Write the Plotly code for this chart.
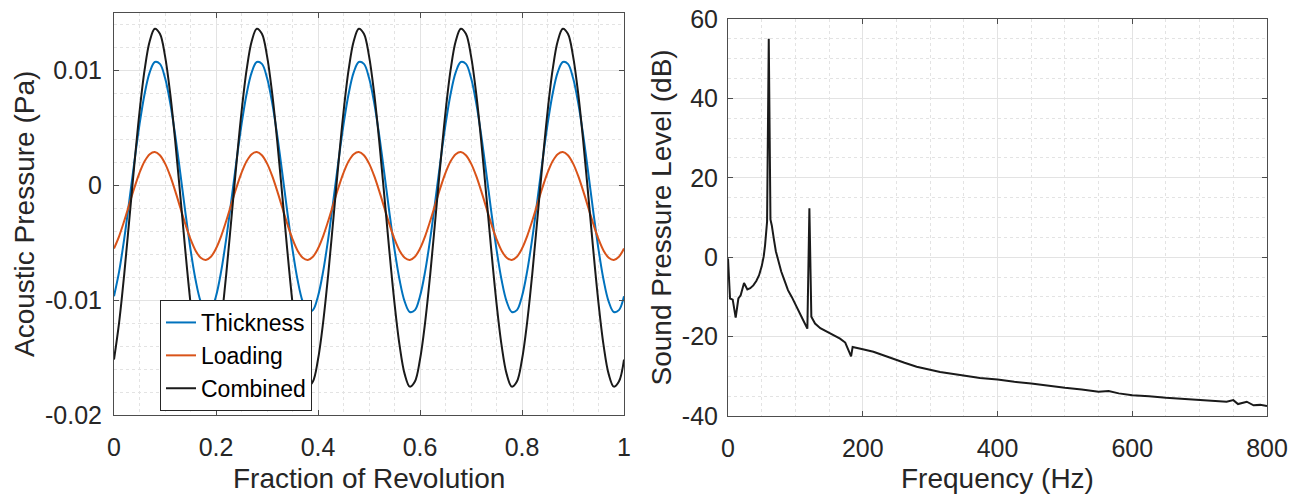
import plotly.graph_objects as go

# ---------------- Left panel data ----------------
frac = [round(i * 0.01, 2) for i in range(101)]

thickness = [
    -0.00966, -0.00752, -0.00466, -0.00135, 0.00207, 0.00528, 0.00795, 0.00983, 0.01073, 0.01057,
    0.00936, 0.00722, 0.00436, 0.00105, -0.00237, -0.00558, -0.00825, -0.01013, -0.01103, -0.01087,
    -0.00966, -0.00752, -0.00466, -0.00135, 0.00207, 0.00528, 0.00795, 0.00983, 0.01073, 0.01057,
    0.00936, 0.00722, 0.00436, 0.00105, -0.00237, -0.00558, -0.00825, -0.01013, -0.01103, -0.01087,
    -0.00966, -0.00752, -0.00466, -0.00135, 0.00207, 0.00528, 0.00795, 0.00983, 0.01073, 0.01057,
    0.00936, 0.00722, 0.00436, 0.00105, -0.00237, -0.00558, -0.00825, -0.01013, -0.01103, -0.01087,
    -0.00966, -0.00752, -0.00466, -0.00135, 0.00207, 0.00528, 0.00795, 0.00983, 0.01073, 0.01057,
    0.00936, 0.00722, 0.00436, 0.00105, -0.00237, -0.00558, -0.00825, -0.01013, -0.01103, -0.01087,
    -0.00966, -0.00752, -0.00466, -0.00135, 0.00207, 0.00528, 0.00795, 0.00983, 0.01073, 0.01057,
    0.00936, 0.00722, 0.00436, 0.00105, -0.00237, -0.00558, -0.00825, -0.01013, -0.01103, -0.01087,
    -0.00966,
]

loading = [
    -0.00551, -0.00444, -0.00311, -0.00165, -0.00021, 0.00108, 0.00209, 0.00271, 0.00290, 0.00262,
    0.00191, 0.00084, -0.00049, -0.00195, -0.00339, -0.00468, -0.00569, -0.00631, -0.00650, -0.00622,
    -0.00551, -0.00444, -0.00311, -0.00165, -0.00021, 0.00108, 0.00209, 0.00271, 0.00290, 0.00262,
    0.00191, 0.00084, -0.00049, -0.00195, -0.00339, -0.00468, -0.00569, -0.00631, -0.00650, -0.00622,
    -0.00551, -0.00444, -0.00311, -0.00165, -0.00021, 0.00108, 0.00209, 0.00271, 0.00290, 0.00262,
    0.00191, 0.00084, -0.00049, -0.00195, -0.00339, -0.00468, -0.00569, -0.00631, -0.00650, -0.00622,
    -0.00551, -0.00444, -0.00311, -0.00165, -0.00021, 0.00108, 0.00209, 0.00271, 0.00290, 0.00262,
    0.00191, 0.00084, -0.00049, -0.00195, -0.00339, -0.00468, -0.00569, -0.00631, -0.00650, -0.00622,
    -0.00551, -0.00444, -0.00311, -0.00165, -0.00021, 0.00108, 0.00209, 0.00271, 0.00290, 0.00262,
    0.00191, 0.00084, -0.00049, -0.00195, -0.00339, -0.00468, -0.00569, -0.00631, -0.00650, -0.00622,
    -0.00551,
]

combined = [
    -0.01517, -0.01196, -0.00777, -0.00300, 0.00186, 0.00636, 0.01004, 0.01254, 0.01363, 0.01319,
    0.01127, 0.00806, 0.00387, -0.00090, -0.00576, -0.01026, -0.01394, -0.01644, -0.01753, -0.01709,
    -0.01517, -0.01196, -0.00777, -0.00300, 0.00186, 0.00636, 0.01004, 0.01254, 0.01363, 0.01319,
    0.01127, 0.00806, 0.00387, -0.00090, -0.00576, -0.01026, -0.01394, -0.01644, -0.01753, -0.01709,
    -0.01517, -0.01196, -0.00777, -0.00300, 0.00186, 0.00636, 0.01004, 0.01254, 0.01363, 0.01319,
    0.01127, 0.00806, 0.00387, -0.00090, -0.00576, -0.01026, -0.01394, -0.01644, -0.01753, -0.01709,
    -0.01517, -0.01196, -0.00777, -0.00300, 0.00186, 0.00636, 0.01004, 0.01254, 0.01363, 0.01319,
    0.01127, 0.00806, 0.00387, -0.00090, -0.00576, -0.01026, -0.01394, -0.01644, -0.01753, -0.01709,
    -0.01517, -0.01196, -0.00777, -0.00300, 0.00186, 0.00636, 0.01004, 0.01254, 0.01363, 0.01319,
    0.01127, 0.00806, 0.00387, -0.00090, -0.00576, -0.01026, -0.01394, -0.01644, -0.01753, -0.01709,
    -0.01517,
]

left_xticks = [0, 0.2, 0.4, 0.6, 0.8, 1]
left_xticklabels = ["0", "0.2", "0.4", "0.6", "0.8", "1"]
left_yticks = [-0.02, -0.01, 0, 0.01]
left_yticklabels = ["-0.02", "-0.01", "0", "0.01"]

# ---------------- Right panel data ----------------
freq = [0, 3, 7, 11.4, 15.4, 18.8, 23.8, 28.7, 33, 37.6, 42, 46, 50, 53, 55, 56.5, 58, 60.5, 63,
        65, 66.5, 68.3, 71, 74.7, 79, 84.6, 89, 94.6, 100, 106.9, 112, 117.8, 120.8, 123.7, 129.2,
        137, 146.5, 156, 166.3, 174, 178.7, 182.7, 185, 188.6, 200, 215.8, 230, 245.5, 262,
        280, 297, 314.8, 344.5, 374, 400, 425, 450, 475, 500, 525, 550, 565, 580, 600, 625,
        650, 675, 700, 720, 740, 750, 757, 770, 780, 790, 800]
spl = [-0.3, -10.4, -10.7, -15.2, -10.4, -9.6, -6.5, -8.1, -7.8, -7.1, -6.0, -4.6, -2.3, 0.2, 3.0, 6.5, 9.0, 55.0, 9.5,
       8.0, 6.0, 4.3, 1.5, -0.8, -3.6, -6.2, -8.3, -10.0, -12.0, -14.2, -16.0, -18.0, 12.3, -15.0, -16.7,
       -17.9, -18.8, -19.7, -20.5, -21.5, -23.4, -25.0, -22.6, -22.7, -23.2, -23.8, -24.7, -25.5, -26.6,
       -27.6, -28.3, -28.9, -29.7, -30.4, -30.8, -31.4, -31.8, -32.4, -32.9, -33.3,
       -33.9, -33.7, -34.3, -34.8, -35.0, -35.4, -35.7, -36.0, -36.2, -36.4, -36.0, -37.0, -36.4, -37.3, -37.2, -37.5]

right_xticks = [0, 200, 400, 600, 800]
right_xticklabels = ["0", "200", "400", "600", "800"]
right_yticks = [-40, -20, 0, 20, 40, 60]
right_yticklabels = ["-40", "-20", "0", "20", "40", "60"]

# ---------------- Figure ----------------
W, H = 1307, 497
FONT = "Arial, 'Liberation Sans', Helvetica, sans-serif"
TXT = "#262626"
AXC = "#4d4d4d"
GRID = "#e3e3e3"
MINOR = "#e3e3e3"

fig = go.Figure()
fig.add_trace(go.Scatter(x=frac, y=thickness, name="Thickness", mode="lines",
                         line=dict(color="#0072BD", width=2, shape="spline"),
                         xaxis="x", yaxis="y"))
fig.add_trace(go.Scatter(x=frac, y=loading, name="Loading", mode="lines",
                         line=dict(color="#D95319", width=2, shape="spline"),
                         xaxis="x", yaxis="y"))
fig.add_trace(go.Scatter(x=frac, y=combined, name="Combined", mode="lines",
                         line=dict(color="#1a1a1a", width=2, shape="spline"),
                         xaxis="x", yaxis="y"))
fig.add_trace(go.Scatter(x=freq, y=spl, mode="lines", showlegend=False,
                         line=dict(color="#1a1a1a", width=2),
                         xaxis="x2", yaxis="y2"))


def px_dom(a, b, total):
    return [a / total, b / total]


def ydom(top, bottom):
    return [1 - bottom / H, 1 - top / H]


common = dict(
    showline=True, linecolor=AXC, linewidth=1, mirror="ticks",
    ticks="inside", ticklen=5, tickcolor=AXC, tickwidth=1,
    showgrid=True, gridcolor=GRID, gridwidth=1, zeroline=False,
    automargin=False,
    tickfont=dict(family=FONT, size=25, color=TXT),
)

fig.update_layout(
    template="none",
    width=W, height=H,
    margin=dict(l=0, r=0, t=0, b=0, pad=0, autoexpand=False),
    paper_bgcolor="white", plot_bgcolor="white",
    font=dict(family=FONT, color=TXT),
    xaxis=dict(domain=px_dom(114, 624, W), range=[0, 1], anchor="y",
               tickmode="array", tickvals=left_xticks, ticktext=left_xticklabels,
               minor=dict(dtick=0.05, tick0=0, showgrid=True, gridcolor=MINOR, griddash="dot", ticks=""),
               ticklabelstandoff=10, **common),
    yaxis=dict(domain=ydom(13, 415), range=[-0.02, 0.015], anchor="x",
               tickmode="array", tickvals=left_yticks, ticktext=left_yticklabels,
               minor=dict(dtick=0.002, tick0=0, showgrid=True, gridcolor=MINOR, griddash="dot", ticks=""),
               ticklabelstandoff=6, **common),
    xaxis2=dict(domain=px_dom(728, 1267, W), range=[0, 800], anchor="y2",
                tickmode="array", tickvals=right_xticks, ticktext=right_xticklabels,
                minor=dict(dtick=50, tick0=0, showgrid=True, gridcolor=MINOR, griddash="dot", ticks=""),
                ticklabelstandoff=10, **common),
    yaxis2=dict(domain=ydom(19, 416), range=[-40, 60], anchor="x2",
                tickmode="array", tickvals=right_yticks, ticktext=right_yticklabels,
                minor=dict(dtick=5, tick0=0, showgrid=True, gridcolor=MINOR, griddash="dot", ticks=""),
                ticklabelstandoff=4, **common),
    legend=dict(x=160 / W, y=1 - 300 / H, xanchor="left", yanchor="top",
                bgcolor="white", bordercolor="#262626", borderwidth=1,
                font=dict(family=FONT, size=23, color="#000000"),
                tracegroupgap=0, itemwidth=30),
    showlegend=True,
)

ann_font = dict(family=FONT, size=28, color=TXT)
fig.add_annotation(text="Fraction of Revolution", x=369 / W, y=1 - 478 / H, xref="paper", yref="paper",
                   showarrow=False, xanchor="center", yanchor="middle", font=ann_font)
fig.add_annotation(text="Frequency (Hz)", x=997.5 / W, y=1 - 478 / H, xref="paper", yref="paper",
                   showarrow=False, xanchor="center", yanchor="middle", font=ann_font)
fig.add_annotation(text="Acoustic Pressure (Pa)", x=25 / W, y=1 - 214 / H, xref="paper", yref="paper",
                   showarrow=False, xanchor="center", yanchor="middle", textangle=-90, font=ann_font)
fig.add_annotation(text="Sound Pressure Level (dB)", x=661 / W, y=1 - 217.5 / H, xref="paper", yref="paper",
                   showarrow=False, xanchor="center", yanchor="middle", textangle=-90, font=ann_font)

fig.write_html("out.html")
